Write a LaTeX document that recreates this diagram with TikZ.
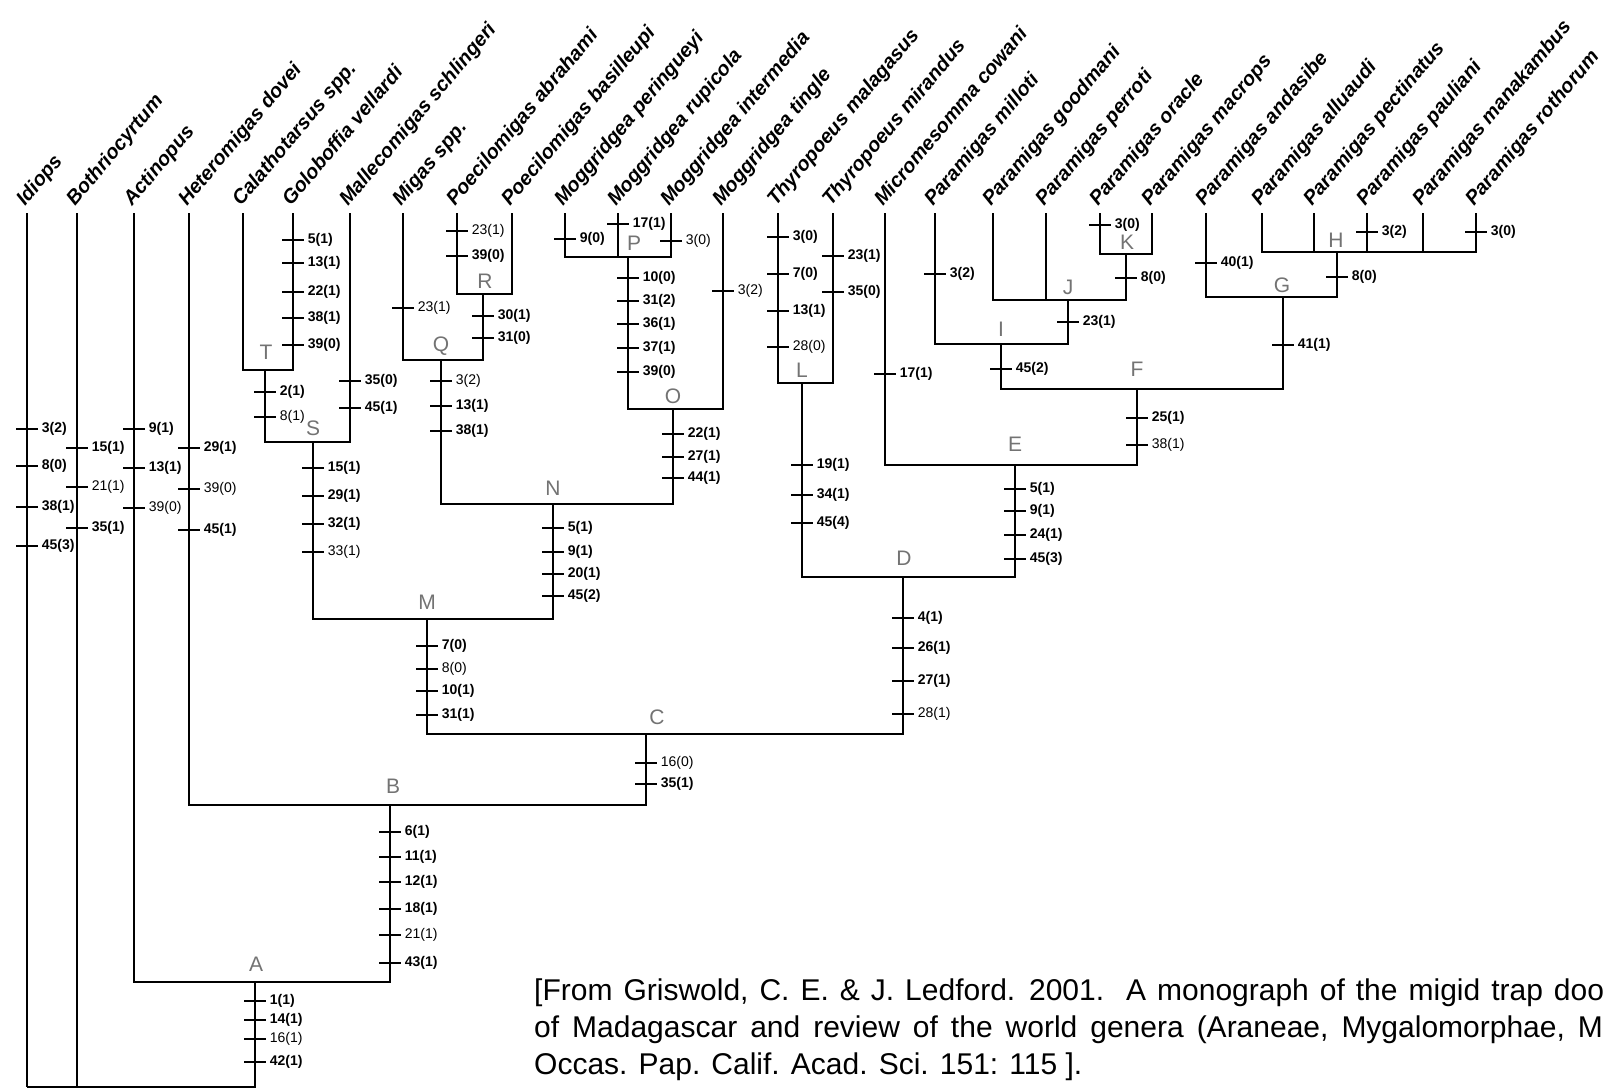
\documentclass[tikz,border=0pt]{standalone}
\usepackage{fontspec}
\setmainfont{Liberation Sans}
\begin{document}
\begin{tikzpicture}[x=1pt,y=-1pt,
  br/.style={line width=1.8pt, line join=miter},
  tk/.style={line width=1.8pt},
  lb/.style={font=\fontsize{14}{16}\selectfont\bfseries, anchor=west, inner sep=0pt},
  lr/.style={font=\fontsize{14}{16}\selectfont, anchor=west, inner sep=0pt},
  tx/.style={font=\fontsize{20}{22}\selectfont\bfseries\itshape, rotate=50, anchor=base west, inner sep=0pt},
  cl/.style={font=\fontsize{21}{21}\selectfont, text=black!55, inner sep=0pt},
  captext/.style={font=\fontsize{30}{34}\selectfont, anchor=base west, inner sep=0pt}]
\useasboundingbox (0,0) rectangle (1603,1090);
\newcommand\mk[4][lb]{\draw[tk] (#2,#3) ++(-11,0) -- ++(22,0) node[#1,xshift=3pt] (k#2x#3) {#4};}
% tips
\foreach \i/\x/\n in {1/27/Idiops,2/77/Bothriocyrtum,3/134/Actinopus,4/189/Heteromigas dovei,5/243/Calathotarsus spp.,6/293/Goloboffia vellardi,7/350/Mallecomigas schlingeri,8/403/Migas spp.,9/457/Poecilomigas abrahami,10/512/Poecilomigas basilleupi,11/565/Moggridgea peringueyi,12/618/Moggridgea rupicola,13/671/Moggridgea intermedia,14/723/Moggridgea tingle,15/778/Thyropoeus malagasus,16/833/Thyropoeus mirandus,17/885/Micromesomma cowani,18/935/Paramigas milloti,19/993/Paramigas goodmani,20/1046/Paramigas perroti,21/1100/Paramigas oracle,22/1152/Paramigas macrops,23/1206/Paramigas andasibe,24/1262/Paramigas alluaudi,25/1314/Paramigas pectinatus,26/1367/Paramigas pauliani,27/1423/Paramigas manakambus,28/1476/Paramigas rothorum}{
  \coordinate (t\i) at (\x,213);
  \node[tx] (n\i) at (\x-2,207) {\n};
}
% clade points
\coordinate (T) at (265,370);
\coordinate (S) at (313,442);
\coordinate (R) at (483,294);
\coordinate (Q) at (441,360);
\coordinate (P) at (628,257);
\coordinate (O) at (673,409);
\coordinate (N) at (553,504);
\coordinate (M) at (427,619);
\coordinate (L) at (802,383);
\coordinate (K) at (1126,254);
\coordinate (J) at (1068,300);
\coordinate (I) at (1001,344);
\coordinate (H) at (1337,252);
\coordinate (G) at (1283,297);
\coordinate (F) at (1137,389);
\coordinate (E) at (1015,465);
\coordinate (D) at (903,577);
\coordinate (C) at (646,734);
\coordinate (B) at (390,805);
\coordinate (A) at (255,982);
\coordinate (root) at (27,1087);
% branches
\foreach \c/\p in {t5/T,t6/T,T/S,t7/S,S/M,t8/Q,t9/R,t10/R,R/Q,Q/N,t11/P,t12/P,t13/P,P/O,t14/O,O/N,N/M,M/C,
  t15/L,t16/L,L/D,t17/E,t18/I,t19/J,t20/J,t21/K,t22/K,K/J,J/I,I/F,t23/G,t24/H,t25/H,t26/H,t27/H,t28/H,H/G,G/F,F/E,E/D,D/C,C/B,t4/B,B/A,t3/A,A/root,t2/root,t1/root}
  \draw[br] (\c) |- (\p);
% clade letters
\foreach \l/\x/\y in {T/266/352,S/313/428,R/485/281,Q/441/346,P/634/243,O/673/396,N/553/488,M/427/602,L/802/370,K/1127/242,J/1068/287,I/1001/329,H/1336/240,G/1282/285,F/1137/369,E/1015/444,D/904/558,C/657/717,B/393/786,A/256/964}
  \node[cl] (lab\l) at (\x,\y) {\l};
% character ticks
\mk{27}{429}{3(2)}\mk{27}{466}{8(0)}\mk{27}{507}{38(1)}\mk{27}{546}{45(3)}
\mk{77}{448}{15(1)}\mk[lr]{77}{487}{21(1)}\mk{77}{528}{35(1)}
\mk{134}{429}{9(1)}\mk{134}{468}{13(1)}\mk[lr]{134}{508}{39(0)}
\mk{189}{448}{29(1)}\mk[lr]{189}{489}{39(0)}\mk{189}{530}{45(1)}
\mk{293}{240}{5(1)}\mk{293}{263}{13(1)}\mk{293}{292}{22(1)}\mk{293}{318}{38(1)}\mk{293}{345}{39(0)}
\mk{265}{392}{2(1)}\mk[lr]{265}{417}{8(1)}
\mk{350}{381}{35(0)}\mk{350}{408}{45(1)}
\mk{313}{468}{15(1)}\mk{313}{496}{29(1)}\mk{313}{524}{32(1)}\mk[lr]{313}{552}{33(1)}
\mk[lr]{403}{308}{23(1)}
\mk[lr]{457}{231}{23(1)}\mk{457}{256}{39(0)}
\mk{483}{316}{30(1)}\mk{483}{338}{31(0)}
\mk[lr]{441}{381}{3(2)}\mk{441}{406}{13(1)}\mk{441}{431}{38(1)}
\mk{565}{239}{9(0)}
\mk{618}{224}{17(1)}
\mk[lr]{671}{241}{3(0)}
\mk{628}{278}{10(0)}\mk{628}{301}{31(2)}\mk{628}{324}{36(1)}\mk{628}{348}{37(1)}\mk{628}{372}{39(0)}
\mk[lr]{723}{291}{3(2)}
\mk{673}{434}{22(1)}\mk{673}{457}{27(1)}\mk{673}{478}{44(1)}
\mk{553}{528}{5(1)}\mk{553}{552}{9(1)}\mk{553}{574}{20(1)}\mk{553}{596}{45(2)}
\mk{427}{646}{7(0)}\mk[lr]{427}{669}{8(0)}\mk{427}{691}{10(1)}\mk{427}{715}{31(1)}
\mk{778}{237}{3(0)}\mk{778}{274}{7(0)}\mk{778}{311}{13(1)}\mk[lr]{778}{347}{28(0)}
\mk{833}{256}{23(1)}\mk{833}{292}{35(0)}
\mk{802}{465}{19(1)}\mk{802}{495}{34(1)}\mk{802}{523}{45(4)}
\mk{885}{374}{17(1)}
\mk{935}{274}{3(2)}
\mk{1100}{225}{3(0)}
\mk{1126}{278}{8(0)}
\mk{1068}{322}{23(1)}
\mk{1001}{369}{45(2)}
\mk{1206}{263}{40(1)}
\mk{1367}{232}{3(2)}
\mk{1476}{232}{3(0)}
\mk{1337}{277}{8(0)}
\mk{1283}{345}{41(1)}
\mk{1137}{418}{25(1)}\mk[lr]{1137}{445}{38(1)}
\mk{1015}{489}{5(1)}\mk{1015}{511}{9(1)}\mk{1015}{535}{24(1)}\mk{1015}{559}{45(3)}
\mk{903}{618}{4(1)}\mk{903}{648}{26(1)}\mk{903}{681}{27(1)}\mk[lr]{903}{714}{28(1)}
\mk[lr]{646}{763}{16(0)}\mk{646}{784}{35(1)}
\mk{390}{832}{6(1)}\mk{390}{857}{11(1)}\mk{390}{882}{12(1)}\mk{390}{909}{18(1)}\mk[lr]{390}{935}{21(1)}\mk{390}{963}{43(1)}
\mk{255}{1001}{1(1)}\mk{255}{1020}{14(1)}\mk[lr]{255}{1039}{16(1)}\mk{255}{1062}{42(1)}
% caption
\node[captext] (cap1) at (534,1000) {\spaceskip=11pt [From Griswold, C. E. \& J. Ledford. 2001.\ \ A monograph of the migid trap doo};
\node[captext] (cap2) at (534,1037) {\spaceskip=13pt of Madagascar and review of the world genera (Araneae, Mygalomorphae, M};
\node[captext] (cap3) at (534,1074) {Occas. Pap. Calif. Acad. Sci. 151: 115 ].};
\end{tikzpicture}
\end{document}
